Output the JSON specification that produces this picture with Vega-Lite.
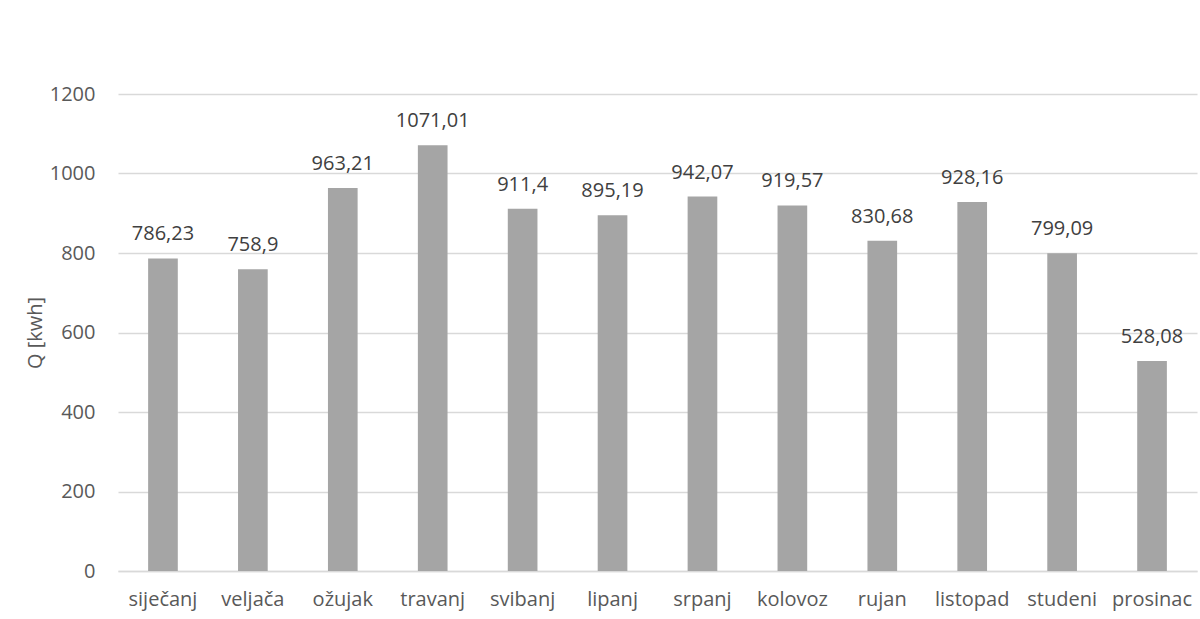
{
  "$schema": "https://vega.github.io/schema/vega-lite/v6.json",
  "width": 1079,
  "height": 477,
  "autosize": "none",
  "padding": {"left": 118, "top": 94, "right": 3, "bottom": 48},
  "background": "#ffffff",
  "config": {
    "locale": {"number": {"decimal": ",", "thousands": "", "grouping": [3], "currency": ["", ""]}},
    "view": {"stroke": null},
    "font": "Open Sans"
  },
  "data": {
    "values": [
      {"mjesec": "siječanj", "Q": 786.23},
      {"mjesec": "veljača", "Q": 758.9},
      {"mjesec": "ožujak", "Q": 963.21},
      {"mjesec": "travanj", "Q": 1071.01},
      {"mjesec": "svibanj", "Q": 911.4},
      {"mjesec": "lipanj", "Q": 895.19},
      {"mjesec": "srpanj", "Q": 942.07},
      {"mjesec": "kolovoz", "Q": 919.57},
      {"mjesec": "rujan", "Q": 830.68},
      {"mjesec": "listopad", "Q": 928.16},
      {"mjesec": "studeni", "Q": 799.09},
      {"mjesec": "prosinac", "Q": 528.08}
    ]
  },
  "encoding": {
    "x": {
      "field": "mjesec", "type": "nominal", "sort": null,
      "scale": {"paddingInner": 0, "paddingOuter": 0},
      "axis": {
        "title": null, "labelAngle": 0, "ticks": false,
        "domain": true, "domainColor": "#d9d9d9", "domainWidth": 1.5,
        "labelFont": "Open Sans", "labelFontSize": 20, "labelColor": "#595959",
        "labelPadding": 18, "grid": false
      }
    },
    "y": {
      "field": "Q", "type": "quantitative",
      "scale": {"domain": [0, 1200], "nice": false},
      "axis": {
        "title": "Q [kwh]", "values": [0, 200, 400, 600, 800, 1000, 1200],
        "domain": false, "ticks": false,
        "grid": true, "gridColor": "#d9d9d9", "gridWidth": 1.5,
        "labelFont": "Open Sans", "labelFontSize": 20, "labelColor": "#595959",
        "labelPadding": 23,
        "titleFont": "Open Sans", "titleFontSize": 20, "titleColor": "#595959",
        "titleFontWeight": "normal", "titlePadding": 4
      }
    }
  },
  "layer": [
    {
      "mark": {"type": "bar", "color": "#a5a5a5", "width": {"band": 0.33}}
    },
    {
      "mark": {"type": "text", "baseline": "alphabetic", "dy": -18, "font": "Open Sans", "fontSize": 20, "color": "#404040"},
      "encoding": {
        "text": {"field": "Q", "type": "quantitative", "format": ".2~f"}
      }
    }
  ]
}
